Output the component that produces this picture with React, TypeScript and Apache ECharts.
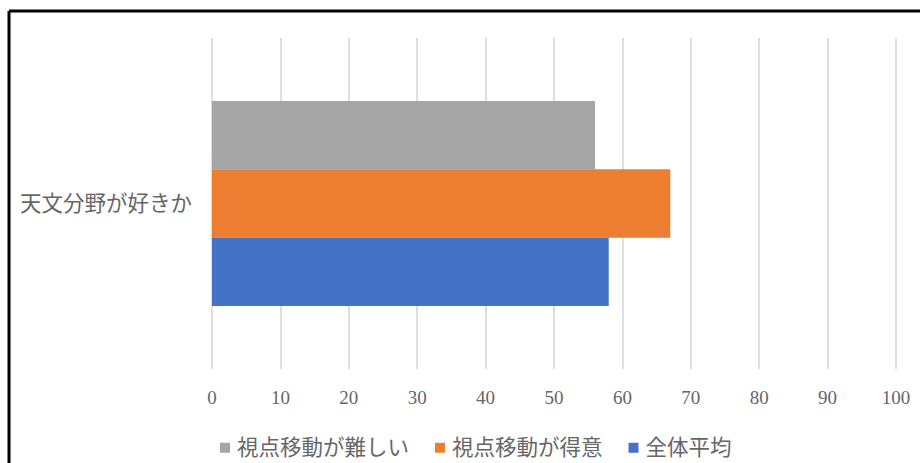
import React, { useEffect, useRef } from "react";
import * as echarts from "echarts";

const categories = ["天文分野が好きか"];
const seriesNames = ["視点移動が難しい", "視点移動が得意", "全体平均"];
const hardValues = [56];
const goodValues = [67];
const allValues = [58];
const colors = ["#a5a5a5", "#ed7d31", "#4472c4"];

const FONT = "'Liberation Serif', 'Noto Sans CJK JP', serif";

export default function App() {
  const ref = useRef<HTMLDivElement>(null);
  useEffect(() => {
    document.body.style.margin = "0";
    const chart = echarts.init(ref.current!, null, { renderer: "svg" });
    const values = [hardValues, goodValues, allValues];
    chart.setOption({
      animation: false,
      backgroundColor: "#ffffff",
      grid: { left: 212, right: 24, top: 38, bottom: 94 },
      xAxis: {
        type: "value",
        min: 0,
        max: 100,
        interval: 10,
        axisLine: { show: false },
        axisTick: { show: false },
        axisLabel: { color: "#666666", fontSize: 19, fontFamily: FONT, margin: 19 },
        splitLine: { show: true, lineStyle: { color: "#dedede", width: 2 } },
      },
      yAxis: {
        type: "category",
        data: categories,
        axisLine: { show: false },
        axisTick: { show: false },
        axisLabel: { color: "#666666", fontSize: 21.5, fontFamily: FONT, margin: 20, padding: [0, 0, 6, 0] },
      },
      legend: {
        data: seriesNames,
        left: 215,
        top: 432,
        itemWidth: 10,
        itemHeight: 10,
        itemGap: 26,
        icon: "rect",
        textStyle: { color: "#666666", fontSize: 21.5, fontFamily: FONT, padding: [0, 0, 0, 2] },
      },
      graphic: [
        { type: "line", shape: { x1: 9, y1: 11, x2: 920, y2: 11 }, style: { stroke: "#000", lineWidth: 3 } },
        { type: "line", shape: { x1: 9, y1: 11, x2: 9, y2: 463 }, style: { stroke: "#000", lineWidth: 3 } },
      ],
      series: seriesNames.map((name, i) => ({
        name,
        type: "bar",
        data: values[i],
        itemStyle: { color: colors[i] },
        barGap: "0%",
        barCategoryGap: "38%",
      })),
    });
    return () => chart.dispose();
  }, []);
  return <div ref={ref} style={{ width: 920, height: 463 }} />;
}
